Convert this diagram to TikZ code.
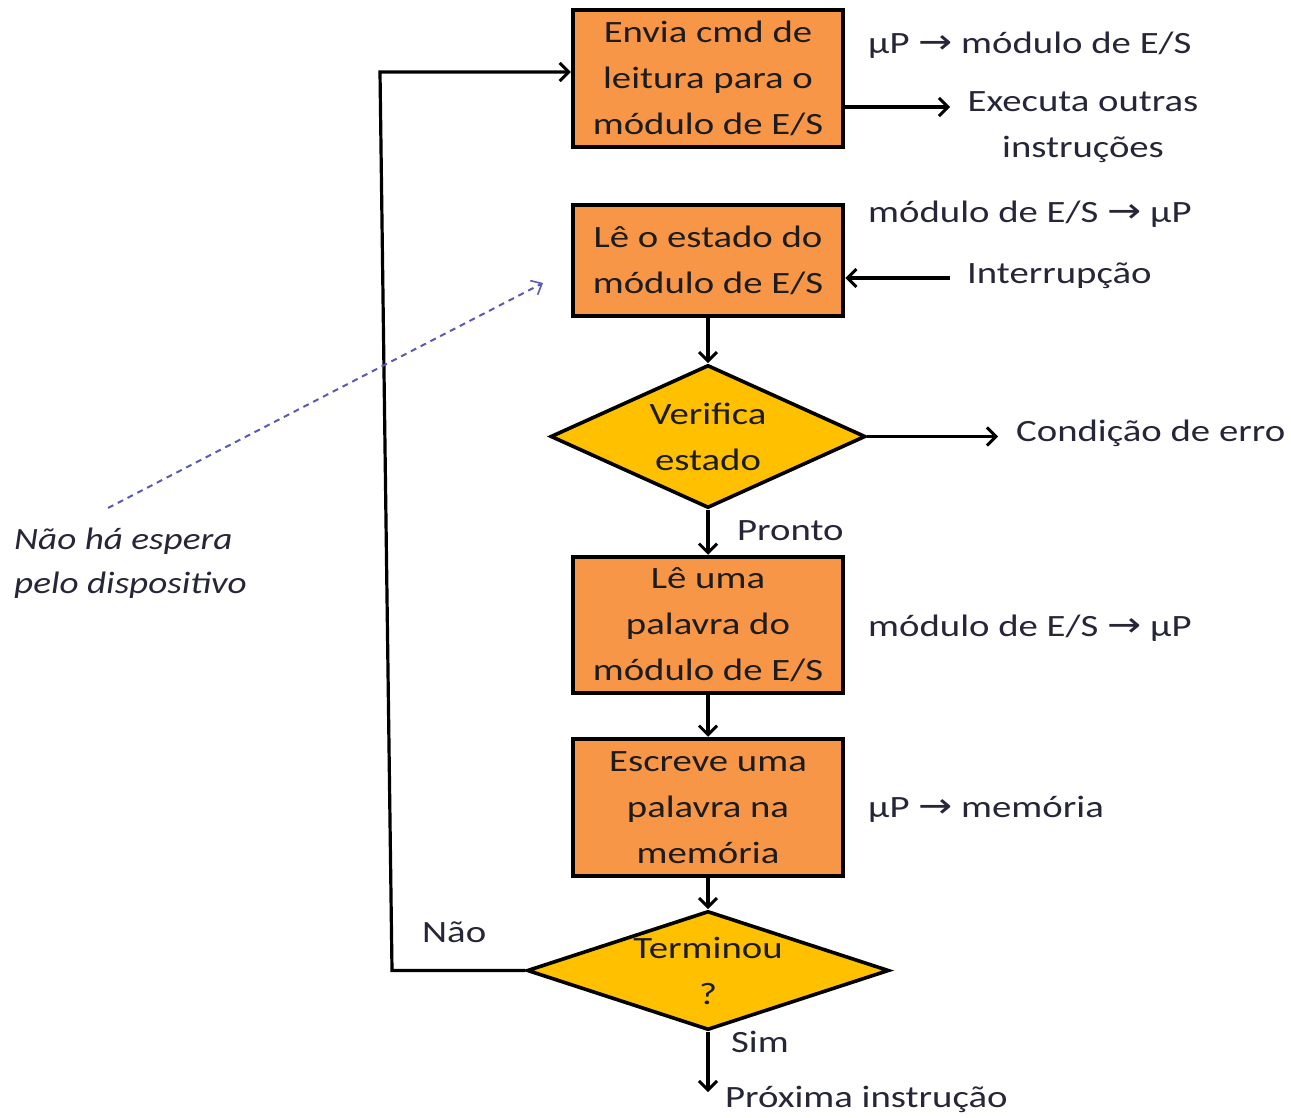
\documentclass[tikz,border=0pt]{standalone}
\usepackage{fontspec}
\setmainfont{Carlito}[FakeStretch=1.25, ItalicFeatures={FakeStretch=1.2}]
\newfontfamily\arrfont{DejaVu Sans}[FakeStretch=1.2]
\usetikzlibrary{arrows.meta,shapes.geometric}
\definecolor{boxor}{HTML}{F79646}
\definecolor{diay}{HTML}{FFC000}
\definecolor{txt}{HTML}{262638}
\definecolor{boxtxt}{HTML}{1C1C1C}
\definecolor{dashb}{HTML}{5A5AB4}
\newcommand{\rarr}{{\arrfont\fontsize{34}{30}\selectfont →}}
\begin{document}
\begin{tikzpicture}[x=1pt,y=-1pt,
  every node/.style={font=\fontsize{31}{46}\selectfont, text=txt},
  procbox/.style={draw=black, line width=4.5pt, fill=boxor, minimum width=270pt, inner sep=0pt, align=center, text=boxtxt},
  decision/.style={draw=black, line width=3.6pt, fill=diay, diamond, inner sep=0pt},
  dtext/.style={align=center, text=boxtxt, inner sep=0pt},
  lbl/.style={anchor=west, inner sep=0pt},
  conn/.style={draw=black, line width=3.2pt, -{Straight Barb[length=9pt,width=18pt,line width=3pt]}},
  note/.style={draw=dashb, line width=2pt, dash pattern=on 6pt off 5pt, -{Straight Barb[length=9pt,width=16pt,line width=1.6pt]}}
]
\useasboundingbox (0,0) rectangle (1291,1118);

% process boxes
\node[procbox, minimum height=137pt] (b1) at (708,78.5) {Envia cmd de\\leitura para o\\módulo de E/S};
\node[procbox, minimum height=111pt] (b2) at (708,260.5) {Lê o estado do\\módulo de E/S};
\node[procbox, minimum height=136pt] (b3) at (708,625) {Lê uma\\palavra do\\módulo de E/S};
\node[procbox, minimum height=137pt] (b4) at (708,807.5) {Escreve uma\\palavra na\\memória};

% decisions
\node[decision, minimum width=315pt, minimum height=143pt] (d1) at (708,436.5) {};
\node[dtext] (d1t) at (708,437) {Verifica\\estado};
\node[decision, minimum width=362pt, minimum height=119pt] (d2) at (708,970.5) {};
\node[dtext] (d2t) at (708,971) {Terminou\\?};

% side labels
\node[lbl] (l1) at (868,45) {µP \rarr{} módulo de E/S};
\node[align=center, inner sep=0pt] (l2) at (1083,127) {Executa outras\\instruções};
\node[lbl] (l3) at (868,214) {módulo de E/S \rarr{} µP};
\node[lbl] (l4) at (967,276) {Interrupção};
\node[lbl] (l5) at (1016,433) {Condição de erro};
\node[lbl] (l6) at (737,531) {Pronto};
\node[lbl] (l7) at (868,628) {módulo de E/S \rarr{} µP};
\node[lbl] (l8) at (868,809) {µP \rarr{} memória};
\node[lbl] (l9) at (422,932) {Não};
\node[lbl] (l10) at (731,1042) {Sim};
\node[lbl] (l11) at (725,1099) {Próxima instrução};
\node[align=left, inner sep=0pt, anchor=west, font=\fontsize{31}{44}\selectfont\itshape] (l12) at (14,563) {Não há espera\\pelo dispositivo};

% coordinates
\coordinate (execA) at (950,107);
\coordinate (intA) at (950,278);
\coordinate (errA) at (998,436.5);
\coordinate (nextA) at (708,1092);
\coordinate (c1) at (392,970.5);
\coordinate (c2) at (380,72);
\coordinate (dstart) at (108,508);
\coordinate (dend) at (543,283);

% connectors
\draw[conn] (b1.east |- execA) -- (execA);
\draw[conn] (intA) -- (b2.east |- intA);
\draw[conn] (b2) -- (d1);
\draw[conn] (d1.east) -- (errA);
\draw[conn] (d1) -- (b3);
\draw[conn] (b3) -- (b4);
\draw[conn] (b4) -- (d2);
\draw[conn] (d2.south) -- (nextA);
\draw[conn] (d2.west) -- (c1) -- (c2) -- (b1.west |- c2);
\draw[note] (dstart) -- (dend);
\end{tikzpicture}
\end{document}
